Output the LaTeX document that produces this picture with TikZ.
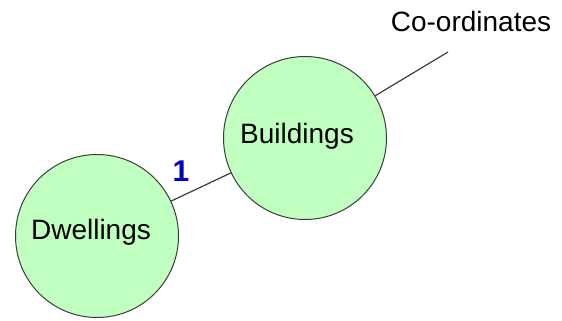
\documentclass[tikz,border=0pt]{standalone}
\usepackage{fontspec}
\setmainfont{Liberation Sans}
\definecolor{entfill}{RGB}{192,255,192}
\definecolor{edgegray}{RGB}{60,60,60}
\definecolor{cardblue}{RGB}{0,0,200}
\begin{document}
\begin{tikzpicture}[x=1pt,y=-1pt,
  entity/.style={circle,draw=edgegray,fill=entfill,line width=1pt,minimum size=163pt,inner sep=0pt},
  entlabel/.style={font=\fontsize{28}{30}\selectfont,text=black},
  rel/.style={draw=edgegray,line width=1.2pt}]
\useasboundingbox (0,0) rectangle (562,321);
\node[entity] (dw) at (97,236) {};
\node[entity] (bu) at (305,138) {};
\node[entlabel] (dwt) at (91,232) {Dwellings};
\node[entlabel] (but) at (297,136) {Buildings};
\coordinate (co) at (448,52);
\node[entlabel,anchor=center] (cot) at (471,21) {Co-ordinates};
\draw[rel] (dw) -- (bu);
\draw[rel] (bu) -- (co);
\node[font=\fontsize{30}{32}\selectfont\bfseries,text=cardblue] (one) at (181,171) {1};
\end{tikzpicture}
\end{document}
